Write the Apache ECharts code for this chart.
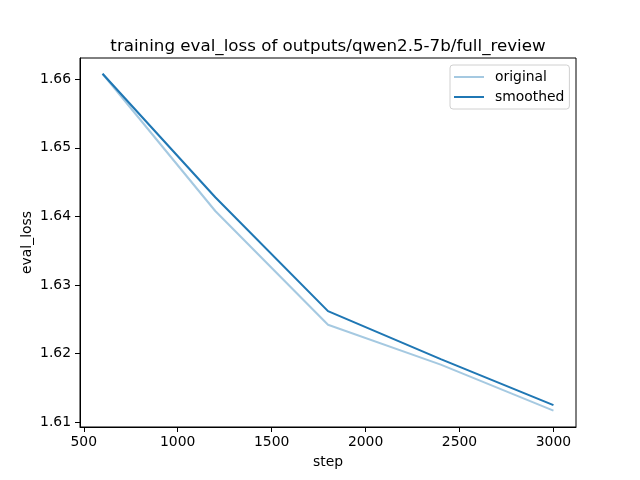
<!DOCTYPE html>
<html>
<head>
<meta charset="utf-8">
<script src="https://cdn.jsdelivr.net/npm/echarts@6/dist/echarts.min.js"></script>
<style>html,body{margin:0;padding:0;background:#fff;}#c{width:640px;height:480px;}</style>
</head>
<body>
<div id="c"></div>
<script>
var steps = [600, 1200, 1800, 2400, 3000];
var original = [1.6608, 1.6408, 1.6242, 1.6184, 1.6117];
var smoothed = [1.6608, 1.6428, 1.6262, 1.6192, 1.6125];
var xTicks = [500, 1000, 1500, 2000, 2500, 3000];
var yTicks = [1.61, 1.62, 1.63, 1.64, 1.65, 1.66];

function pairs(xs, ys) { return xs.map(function (x, i) { return [x, ys[i]]; }); }

var font = 'DejaVu Sans';
var chart = echarts.init(document.getElementById('c'), null, { renderer: 'canvas' });
chart.setOption({
  animation: false,
  backgroundColor: '#fff',
  textStyle: { fontFamily: font },
  title: {
    text: 'training eval_loss of outputs/qwen2.5-7b/full_review',
    left: 323, top: 33, textAlign: 'center',
    textStyle: { fontFamily: font, fontSize: 16.7, fontWeight: 'normal', color: '#000' }
  },
  grid: { left: 80, right: 64, top: 58, bottom: 53, show: true, borderColor: '#000', borderWidth: 1, backgroundColor: 'transparent' },
  legend: {
    orient: 'vertical', left: 450, top: 65,
    padding: [4, 5, 4, 4], itemWidth: 30, itemHeight: 2, itemGap: 4, icon: 'rect',
    borderColor: '#d0d0d0', borderWidth: 1, borderRadius: 3, backgroundColor: 'rgba(255,255,255,0.8)',
    textStyle: { fontFamily: font, fontSize: 13.9, color: '#000', padding: [0, 0, 0, 6], lineHeight: 16 },
    data: [
      { name: 'original', itemStyle: { color: '#a5c9e1' } },
      { name: 'smoothed', itemStyle: { color: '#1f77b4' } }
    ]
  },
  xAxis: {
    type: 'value', min: 480, max: 3120,
    name: 'step', nameLocation: 'middle', nameGap: 28,
    nameTextStyle: { fontFamily: font, fontSize: 13.9, color: '#000' },
    axisLine: { show: true, onZero: false, lineStyle: { color: '#000', width: 1 } },
    axisTick: { show: true, inside: false, length: 5, lineStyle: { color: '#000' }, customValues: xTicks },
    axisLabel: { fontFamily: font, fontSize: 13.9, color: '#000', margin: 8, customValues: xTicks,
      formatter: function (v) { return String(Math.round(v)); } },
    splitLine: { show: false }
  },
  yAxis: {
    type: 'value', min: 1.60931, max: 1.66310,
    name: 'eval_loss', nameLocation: 'middle', nameGap: 46, nameMoveOverlap: false,
    nameTextStyle: { fontFamily: font, fontSize: 13.9, color: '#000' },
    axisLine: { show: true, onZero: false, lineStyle: { color: '#000', width: 1 } },
    axisTick: { show: true, inside: false, length: 5, lineStyle: { color: '#000' }, customValues: yTicks },
    axisLabel: { fontFamily: font, fontSize: 13.9, color: '#000', margin: 9, customValues: yTicks,
      formatter: function (v) { return v.toFixed(2); } },
    splitLine: { show: false }
  },
  series: [
    { name: 'original', type: 'line', data: pairs(steps, original), symbol: 'none',
      lineStyle: { color: '#1f77b4', opacity: 0.4, width: 2.08 }, itemStyle: { color: '#a5c9e1' } },
    { name: 'smoothed', type: 'line', data: pairs(steps, smoothed), symbol: 'none',
      lineStyle: { color: '#1f77b4', width: 2.08 }, itemStyle: { color: '#1f77b4' } }
  ]
});
</script>
</body>
</html>
